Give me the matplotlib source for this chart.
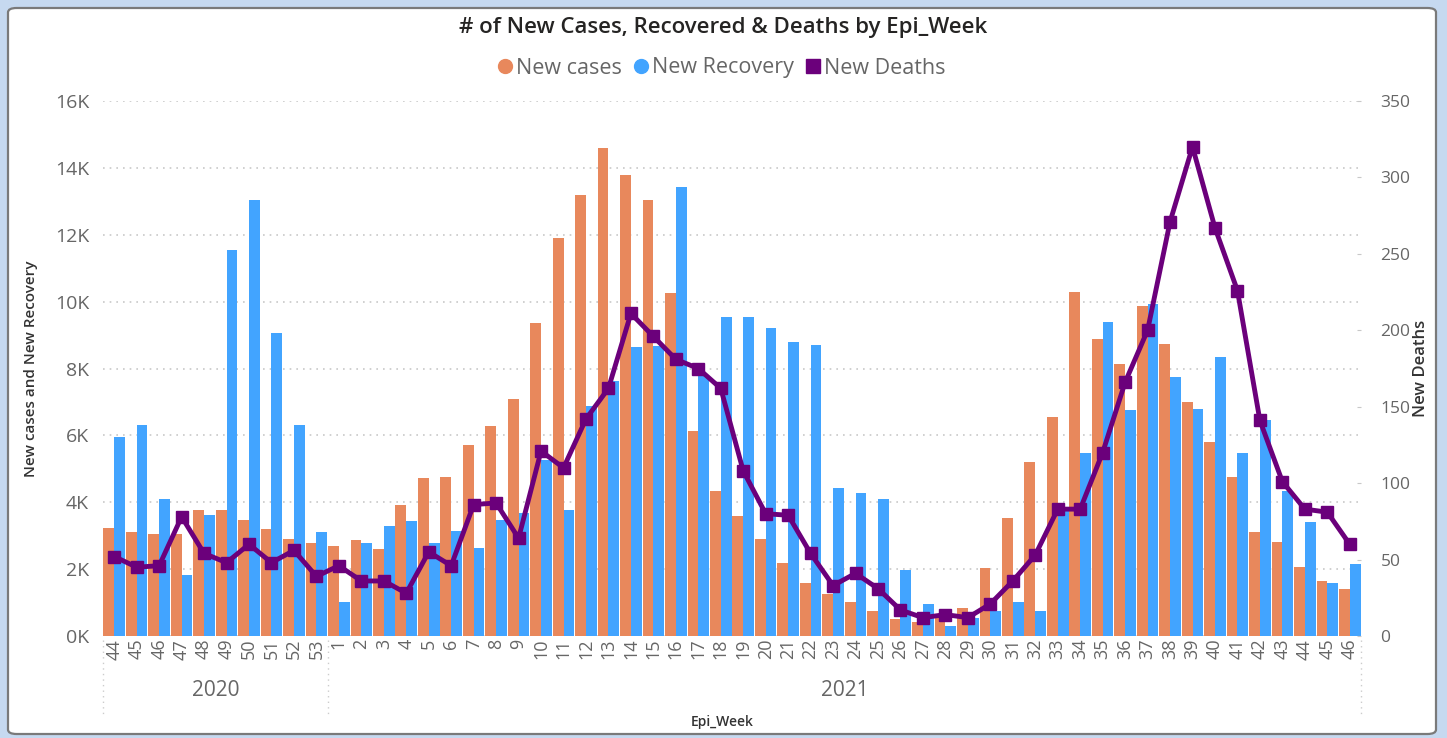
import matplotlib
matplotlib.use("Agg")
import matplotlib.pyplot as plt
import numpy as np
from matplotlib.lines import Line2D
from matplotlib.patches import FancyBboxPatch
import matplotlib.transforms as mtransforms

plt.rcParams['font.family'] = ['Open Sans', 'DejaVu Sans']

weeks_2020 = ["44", "45", "46", "47", "48", "49", "50", "51", "52", "53"]
weeks_2021 = [str(i) for i in range(1, 47)]
week_labels = weeks_2020 + weeks_2021
years = ["2020", "2021"]

new_cases = [3240, 3110, 3060, 3060, 3780, 3780, 3480, 3200, 2910, 2780,
             2680, 2880, 2590, 3920, 4720, 4760, 5720, 6280, 7090, 9350,
             11910, 13190, 14600, 13790, 13040, 10250, 6140, 4340, 3580, 2910,
             2180, 1600, 1270, 1030, 740, 520, 420, 580, 830, 2020,
             3540, 5190, 6560, 10300, 8880, 8130, 9880, 8740, 6990, 5810,
             4760, 3120, 2820, 2070, 1640, 1400]
new_recovery = [5940, 6320, 4090, 1830, 3620, 11530, 13040, 9060, 6320, 3110,
                1030, 2790, 3300, 3440, 2790, 3150, 2640, 3480, 3670, 5250,
                3780, 6890, 7630, 8640, 8680, 13420, 7800, 9540, 9540, 9210,
                8780, 8690, 4420, 4280, 4090, 1970, 970, 310, 550, 740,
                1030, 740, 3760, 5480, 9400, 6750, 9930, 7740, 6800, 8350,
                5480, 6470, 4350, 3400, 1580, 2160]
new_deaths = [52, 45, 46, 78, 54, 48, 60, 48, 56, 39,
              46, 36, 36, 28, 55, 46, 86, 87, 64, 121,
              110, 142, 162, 211, 196, 181, 175, 162, 108, 80,
              79, 54, 33, 41, 31, 17, 12, 14, 12, 21,
              36, 53, 83, 83, 120, 166, 200, 271, 320, 267,
              226, 141, 101, 83, 81, 60]

C_ORANGE = "#E8885C"
C_BLUE = "#42A4FF"
C_PURPLE = "#6B007B"
C_TEXT = "#666666"

W, H = 1447, 738
fig = plt.figure(figsize=(W / 100, H / 100), dpi=100)
fig.patch.set_facecolor("#C6D9F0")

# white panel
panel = FancyBboxPatch((8 / W, 4 / H), 1428 / W, 726 / H,
                       boxstyle="round,pad=0,rounding_size=0.006",
                       transform=fig.transFigure, facecolor="white",
                       edgecolor="#7A7A7A", linewidth=1.6, zorder=-10)
fig.patches.append(panel)

ax = fig.add_axes([103 / W, 1 - 636 / H, (1361 - 103) / W, (636 - 101) / H])
ax.set_facecolor("none")
n = len(week_labels)
x = np.arange(n)
bw = 0.48
ax.bar(x - bw / 2, new_cases, width=bw, color=C_ORANGE, zorder=2)
ax.bar(x + bw / 2, new_recovery, width=bw, color=C_BLUE, zorder=2)
ax.set_xlim(-0.5, n - 0.5)
ax.set_ylim(0, 16000)
ax.set_yticks(np.arange(0, 16001, 2000))
ax.set_yticklabels([f"{int(v/1000)}K" for v in np.arange(0, 16001, 2000)])
ax.yaxis.grid(True, linestyle=(0, (1, 3)), color="#C8C8C8", linewidth=1.2, zorder=0)
ax.set_axisbelow(True)
for s in ax.spines.values():
    s.set_visible(False)
ax.tick_params(axis='y', length=0, labelsize=14, labelcolor=C_TEXT, pad=10)
ax.set_xticks(x)
ax.set_xticklabels(week_labels, rotation=90, fontsize=13, color=C_TEXT)
ax.tick_params(axis='x', length=0, pad=2)
ax.set_ylabel("New cases and New Recovery", fontsize=11, color="#333333",
              fontweight='semibold', labelpad=12)

ax2 = ax.twinx()
ax2.plot(x, new_deaths, color=C_PURPLE, linewidth=3.5, marker='s',
         markersize=9, zorder=5, clip_on=False)
ax2.set_ylim(0, 350)
ax2.set_yticks(np.arange(0, 351, 50))
for s in ax2.spines.values():
    s.set_visible(False)
ax2.tick_params(axis='y', length=3, direction='in', color="#C8C8C8",
                labelsize=12.5, labelcolor=C_TEXT, pad=14)
ax2.set_ylabel("New Deaths", fontsize=12, color="#333333",
               fontweight='semibold', labelpad=2)

# year group labels and separators
trans = mtransforms.blended_transform_factory(ax.transData, fig.transFigure)
for xs in [-0.5, len(weeks_2020) - 0.5, n - 0.5]:
    ax.plot([xs, xs], [1 - 640 / H, 1 - 716 / H], transform=trans,
            linestyle=(0, (1, 3)), color="#CCCCCC", linewidth=1, clip_on=False)
ax.text((len(weeks_2020) - 1) / 2, 1 - 691 / H, years[0], transform=trans,
        ha='center', va='center', fontsize=15, color=C_TEXT)
ax.text(len(weeks_2020) + (len(weeks_2021) - 1) / 2, 1 - 691 / H, years[1],
        transform=trans, ha='center', va='center', fontsize=15, color=C_TEXT)

fig.text(722 / W, 1 - 722 / H, "Epi_Week", ha='center', va='center',
         fontsize=10, color="#333333", fontweight='semibold')

fig.text(723 / W, 1 - 27 / H, "# of New Cases, Recovered & Deaths by Epi_Week",
         ha='center', va='center', fontsize=16, color="#252423",
         fontweight='semibold')

handles = [
    Line2D([], [], linestyle='none', marker='o', markersize=10,
           color=C_ORANGE),
    Line2D([], [], linestyle='none', marker='o', markersize=10,
           color=C_BLUE),
    Line2D([], [], linestyle='none', marker='s', markersize=10,
           color=C_PURPLE),
]
leg = fig.legend(handles, ["New cases", "New Recovery", "New Deaths"],
                 loc='center', bbox_to_anchor=(720 / W, 1 - 68 / H), ncol=3,
                 frameon=False, handletextpad=0.0, columnspacing=0.4,
                 handlelength=1.0, fontsize=15.5)
for t in leg.get_texts():
    t.set_color(C_TEXT)

fig.savefig("out.png", dpi=100, facecolor=fig.get_facecolor())
